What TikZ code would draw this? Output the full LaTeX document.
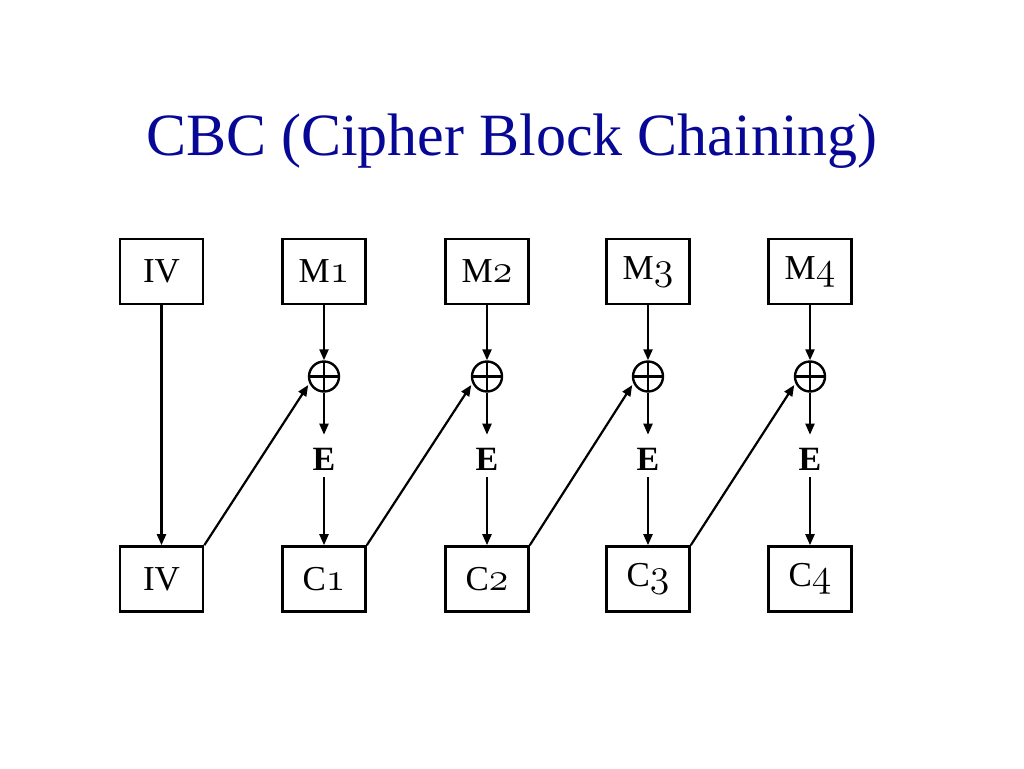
\documentclass[tikz,border=0pt]{standalone}
\usepackage{fontspec}
\setmainfont{Liberation Serif}
\usetikzlibrary{arrows.meta}
\definecolor{titleblue}{RGB}{8,8,150}
\newcommand{\osn}[1]{\scalebox{1.6}{\fontsize{24.88}{25}\usefont{OML}{cmm}{m}{it}#1}}
\begin{document}
\begin{tikzpicture}[x=1pt,y=-1pt,
  blk/.style={draw,line width=2.6pt,minimum width=83pt,minimum height=65pt,inner sep=0pt,font=\fontsize{35}{35}\selectfont},
  xr/.style={draw,circle,line width=2.4pt,minimum size=30pt,inner sep=0pt,
    path picture={\draw[line width=2.2pt] (path picture bounding box.north) -- (path picture bounding box.south)
      (path picture bounding box.west) -- (path picture bounding box.east);}},
  enc/.style={inner sep=0pt,font=\fontsize{34}{34}\selectfont\bfseries},
  arr/.style={line width=2.2pt,-{Triangle[length=11pt,width=9pt]}}]
\useasboundingbox (0,0) rectangle (1024,768);
\node[text=titleblue,font=\fontsize{60}{60}\selectfont,anchor=base] (title) at (512,155) {CBC (Cipher Block Chaining)};
\node[blk] (ivt) at (161.5,271.5) {IV};
\node[blk] (ivb) at (161.5,579) {IV};
\foreach \i/\x in {1/324,2/487,3/648,4/810}{
  \node[blk] (m\i) at (\x,271.5) {M\osn{\i}};
  \node[blk] (c\i) at (\x,579) {C\osn{\i}};
  \node[xr] (x\i) at (\x,376.5) {};
  \node[enc] (e\i) at (\x,459) {E};
  \draw[arr] (m\i) -- (x\i);
  \draw[arr,shorten >=13pt] (x\i) -- (e\i);
  \draw[arr,shorten <=7pt] (e\i) -- (c\i);
}
\draw[arr] (ivt) -- (ivb);
\draw[arr,shorten >=2pt] (ivb.north east) -- (x1.205);
\draw[arr,shorten >=2pt] (c1.north east) -- (x2.205);
\draw[arr,shorten >=2pt] (c2.north east) -- (x3.205);
\draw[arr,shorten >=2pt] (c3.north east) -- (x4.205);
\end{tikzpicture}
\end{document}
